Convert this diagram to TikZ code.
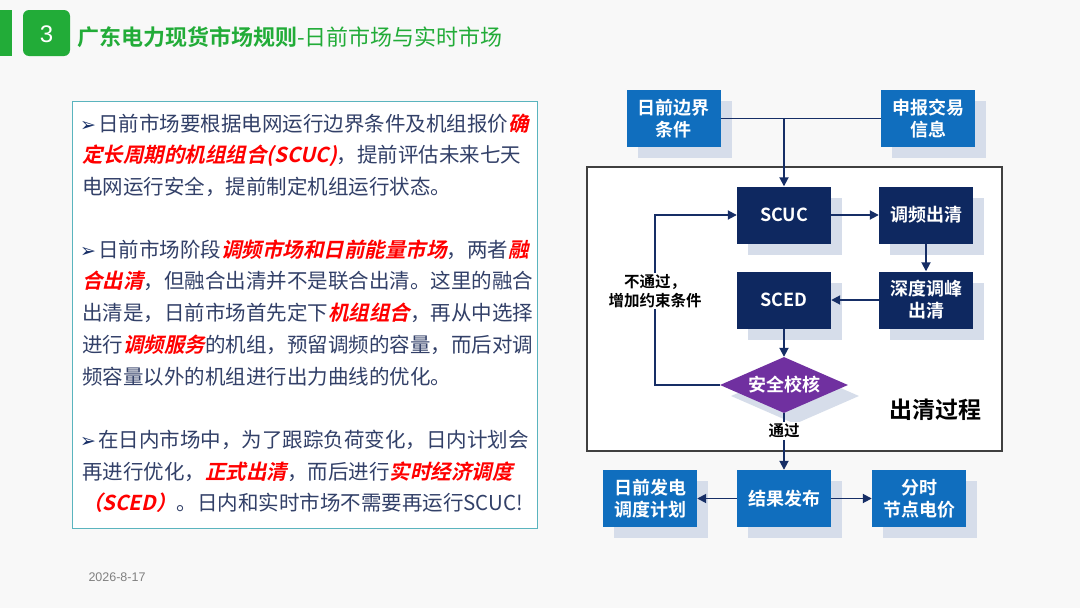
\documentclass[tikz,border=0pt]{standalone}
\usepackage{fontspec}
\setmainfont{Noto Sans CJK SC}
\newfontfamily\cjk{Noto Sans CJK SC}
\newfontfamily\cjkb{Noto Sans CJK SC Bold}
\newfontfamily\cjkbi[FakeSlant=0.22]{Noto Sans CJK SC Bold}
\newfontfamily\dv{DejaVu Sans}
\newfontfamily\lib{Liberation Sans}
\usetikzlibrary{arrows.meta,shapes.geometric,shadows}
\definecolor{bgc}{RGB}{248,248,248}
\definecolor{grn}{RGB}{34,172,56}
\definecolor{txt}{RGB}{50,64,104}
\definecolor{redc}{RGB}{255,0,0}
\definecolor{panel}{RGB}{90,180,190}
\definecolor{boxblue}{RGB}{16,110,190}
\definecolor{navy}{RGB}{14,40,96}
\definecolor{purp}{RGB}{112,48,160}
\definecolor{shadowc}{RGB}{214,221,234}
\definecolor{linec}{RGB}{22,46,102}
\newcommand{\rd}[1]{{\cjkbi\color{redc}#1}}
\newcommand{\bul}{{\dv\color{linec}\fontsize{19}{22}\selectfont ➢}\hspace{2pt}}
\begin{document}
\begin{tikzpicture}[x=1pt,y=-1pt,
  shd/.style={drop shadow={shadow xshift=11pt,shadow yshift=-11pt,fill=shadowc,opacity=1}},
  bluebox/.style={shd,fill=boxblue,text=white,font=\cjkb\fontsize{18}{22}\selectfont,minimum width=94pt,minimum height=57pt,inner sep=0pt,align=center},
  navybox/.style={bluebox,fill=navy},
  conn/.style={draw=linec,line width=1.8pt,-{Triangle[length=9pt,width=9pt]}},
  plain/.style={draw=linec,line width=1.8pt},
  lbl/.style={font=\cjkb\fontsize{15.5}{19}\selectfont,fill=white,inner sep=1.5pt,align=center,text=black},
  tl/.style={anchor=west,text=txt,font=\cjk\fontsize{20.5}{24}\selectfont,inner sep=0pt,text height=16pt,text depth=4pt}
]
\fill[bgc] (0,0) rectangle (1080,608);
\useasboundingbox (0,0) rectangle (1080,608);
% header
\fill[grn] (0,10) rectangle (12,56);
\fill[grn,rounded corners=6pt] (23,10) rectangle (70,56);
\node[text=white,font=\lib\fontsize{24}{28}\selectfont] (num) at (46.5,34) {3};
\node[anchor=west,text=grn,inner sep=0pt,font=\fontsize{22}{26}\selectfont] (title) at (77,37)
  {{\cjkb 广东电力现货市场规则}{\cjk -日前市场与实时市场}};
% left panel
\draw[panel,line width=1pt,fill=white] (72,101) rectangle (537,528);
\node[tl] (l1) at (80,125) {\bul 日前市场要根据电网运行边界条件及机组报价\rd{确}};
\node[tl] (l2) at (82,156) {\rd{定长周期的机组组合(SCUC)}，提前评估未来七天};
\node[tl] (l3) at (82,188) {电网运行安全，提前制定机组运行状态。};
\node[tl] (l5) at (80,251) {\bul 日前市场阶段\rd{调频市场和日前能量市场}，两者\rd{融}};
\node[tl] (l6) at (82,282) {\rd{合出清}，但融合出清并不是联合出清。这里的融合};
\node[tl] (l7) at (82,314) {出清是，日前市场首先定下\rd{机组组合}，再从中选择};
\node[tl] (l8) at (82,346) {进行\rd{调频服务}的机组，预留调频的容量，而后对调};
\node[tl] (l9) at (82,378) {频容量以外的机组进行出力曲线的优化。};
\node[tl] (l11) at (80,441) {\bul 在日内市场中，为了跟踪负荷变化，日内计划会};
\node[tl] (l12) at (82,473) {再进行优化，\rd{正式出清}，而后进行\rd{实时经济调度}};
\node[tl] (l13) at (82,504) {\rd{（SCED）}。日内和实时市场不需要再运行SCUC!};
% date
\node[text=gray,font=\lib\fontsize{12.5}{15}\selectfont] (date) at (117,577) {2026-8-17};
% diagram frame
\draw[draw=black!75,line width=1.2pt,fill=white] (587,167) rectangle (1002,451);
\node[font=\cjkb\fontsize{23}{27}\selectfont,text=black] (cq) at (935,410) {出清过程};
% nodes
\node[bluebox] (bd) at (673.5,118.5) {日前边界\\条件};
\node[bluebox] (sb) at (928,118.5) {申报交易\\信息};
\node[navybox] (scuc) at (784,215) {SCUC};
\node[navybox] (tp) at (926,215) {调频出清};
\node[navybox] (sd) at (926,300) {深度调峰\\出清};
\node[navybox] (sced) at (784,300) {SCED};
\node[shd,diamond,aspect=2.286,fill=purp,text=white,font=\cjkb\fontsize{18}{22}\selectfont,minimum width=128pt,minimum height=56pt,inner sep=0pt] (aq) at (784,385) {安全校核};
\node[bluebox] (jg) at (784,498.5) {结果发布};
\node[bluebox] (rq) at (650,498.5) {日前发电\\调度计划};
\node[bluebox] (fs) at (919,498.5) {分时\\节点电价};
% connectors
\draw[plain] (bd.east) -- (sb.west);
\draw[conn] (bd.east -| scuc.north) -- (scuc.north);
\draw[conn] (scuc) -- (tp);
\draw[conn] (tp) -- (sd);
\draw[conn] (sd) -- (sced);
\draw[conn] (sced) -- (aq);
\coordinate (lc) at (655,385);
\draw[conn] (aq.west) -- (lc) |- (scuc.west);
\node[lbl] (nt) at (655,291) {不通过，\\增加约束条件};
\draw[conn] (aq.south) -- (jg.north);
\node[lbl] (tg) at (784,431) {通过};
\draw[conn] (jg) -- (rq);
\draw[conn] (jg) -- (fs);
\end{tikzpicture}
\end{document}
